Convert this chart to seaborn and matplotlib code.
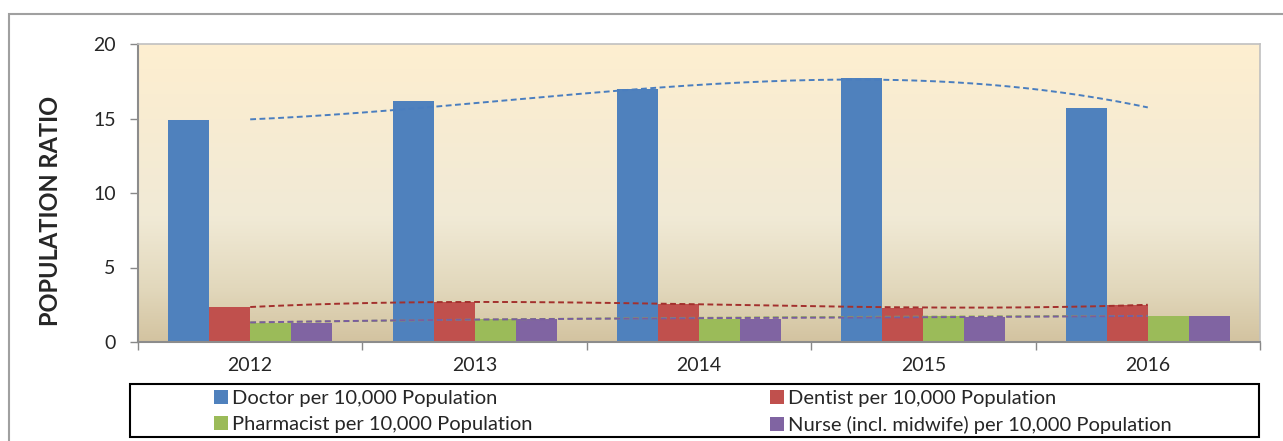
import numpy as np
import pandas as pd
import matplotlib
matplotlib.use("Agg")
import matplotlib.pyplot as plt
from matplotlib.patches import Patch, Rectangle
from matplotlib.colors import LinearSegmentedColormap
import seaborn as sns

# values
years = ["2012", "2013", "2014", "2015", "2016"]
doctor = [14.9, 16.2, 17.0, 17.7, 15.7]
dentist = [2.35, 2.68, 2.54, 2.31, 2.50]
pharmacist = [1.30, 1.55, 1.55, 1.75, 1.74]
nurse = [1.30, 1.55, 1.53, 1.71, 1.74]

series_names = ["Doctor per 10,000 Population",
                "Dentist per 10,000 Population",
                "Pharmacist per 10,000 Population",
                "Nurse (incl. midwife) per 10,000 Population"]
series_values = [doctor, dentist, pharmacist, nurse]
bar_colors = ["#4F81BD", "#C0504D", "#9BBB59", "#8064A2"]
trend_colors = ["#4A7EBF", "#A3302D", "#8FB54A", "#7A5CA0"]

rows = []
for name, vals in zip(series_names, series_values):
    for yr, v in zip(years, vals):
        rows.append({"Year": yr, "Series": name, "Value": v})
df = pd.DataFrame(rows)

sns.set_style("white")
plt.rcParams['font.family'] = ['Lato', 'DejaVu Sans']

W, H = 1283, 441
fig = plt.figure(figsize=(W / 100, H / 100), dpi=100)
ax = fig.add_axes([138 / W, (H - 342) / H, (1260 - 138) / W, (342 - 44) / H])

sns.barplot(data=df, x="Year", y="Value", hue="Series", order=years,
            hue_order=series_names, palette=bar_colors, width=0.73,
            gap=0, saturation=1, ax=ax, legend=False, errorbar=None)
for p in ax.patches:
    p.set_zorder(2)
    p.set_edgecolor("none")

# plot area gradient
grad_cmap = LinearSegmentedColormap.from_list(
    "bg", [(0.0, "#D3C3A0"), (0.18, "#E2D8BC"), (0.42, "#F1EAD6"),
           (0.75, "#F8ECD2"), (1.0, "#FEEFD0")])
ax.imshow(np.linspace(0, 1, 256).reshape(-1, 1), cmap=grad_cmap,
          extent=[-0.5, 4.5, 0, 20], aspect="auto", origin="lower", zorder=0)

# polynomial trend lines
xpos = np.arange(len(years))
xs = np.linspace(0, len(years) - 1, 200)
for vals, c in zip(series_values, trend_colors):
    coef = np.polyfit(xpos, vals, 3)
    ax.plot(xs, np.polyval(coef, xs), color=c, lw=1.4,
            linestyle=(0, (3, 1.8)), zorder=3)

ax.set_xlim(-0.5, 4.5)
ax.set_ylim(0, 20)
ax.set_yticks([0, 5, 10, 15, 20])
ax.set_xlabel("")
ax.set_ylabel("POPULATION RATIO", fontsize=17, fontweight="bold")
ax.yaxis.set_label_coords((62 - 138) / (1260 - 138), 0.44)
ax.tick_params(axis="y", which="major", direction="out", length=6,
               width=1, color="#888888", labelsize=14, pad=10, left=True)
ax.set_xticks(np.arange(-0.5, 5, 1), minor=True)
ax.tick_params(axis="x", which="major", length=0, labelsize=14, pad=11)
ax.tick_params(axis="x", which="minor", direction="out", length=6,
               width=1, color="#888888", bottom=True)

for side in ["left", "bottom"]:
    ax.spines[side].set_color("#8C8C8C")
    ax.spines[side].set_linewidth(1.5)
for side in ["top", "right"]:
    ax.spines[side].set_visible(True)
    ax.spines[side].set_color("#C0C0C0")
    ax.spines[side].set_linewidth(1.2)

# outer chart frame
fig.patches.append(Rectangle((9 / W, -0.1), 1.2, (H - 14) / H + 0.1,
                             transform=fig.transFigure, fill=False,
                             edgecolor="#A0A0A0", lw=1.5))

# legend box with two columns
fig.patches.append(Rectangle((130 / W, (H - 437) / H), (1259 - 130) / W,
                             (437 - 384) / H, transform=fig.transFigure,
                             fill=False, edgecolor="black", lw=1.5))
handles = [Patch(facecolor=c, edgecolor="none") for c in bar_colors]
for idx, x0 in [((0, 2), 214), ((1, 3), 770)]:
    fig.legend([handles[i] for i in idx], [series_names[i] for i in idx],
               loc="upper left", bbox_to_anchor=(x0 / W, (H - 390) / H),
               frameon=False, fontsize=14.5, handlelength=0.7,
               handleheight=0.7, handletextpad=0.2, labelspacing=0.45,
               borderpad=0.0, borderaxespad=0.0)

fig.savefig("out.png", dpi=100)
